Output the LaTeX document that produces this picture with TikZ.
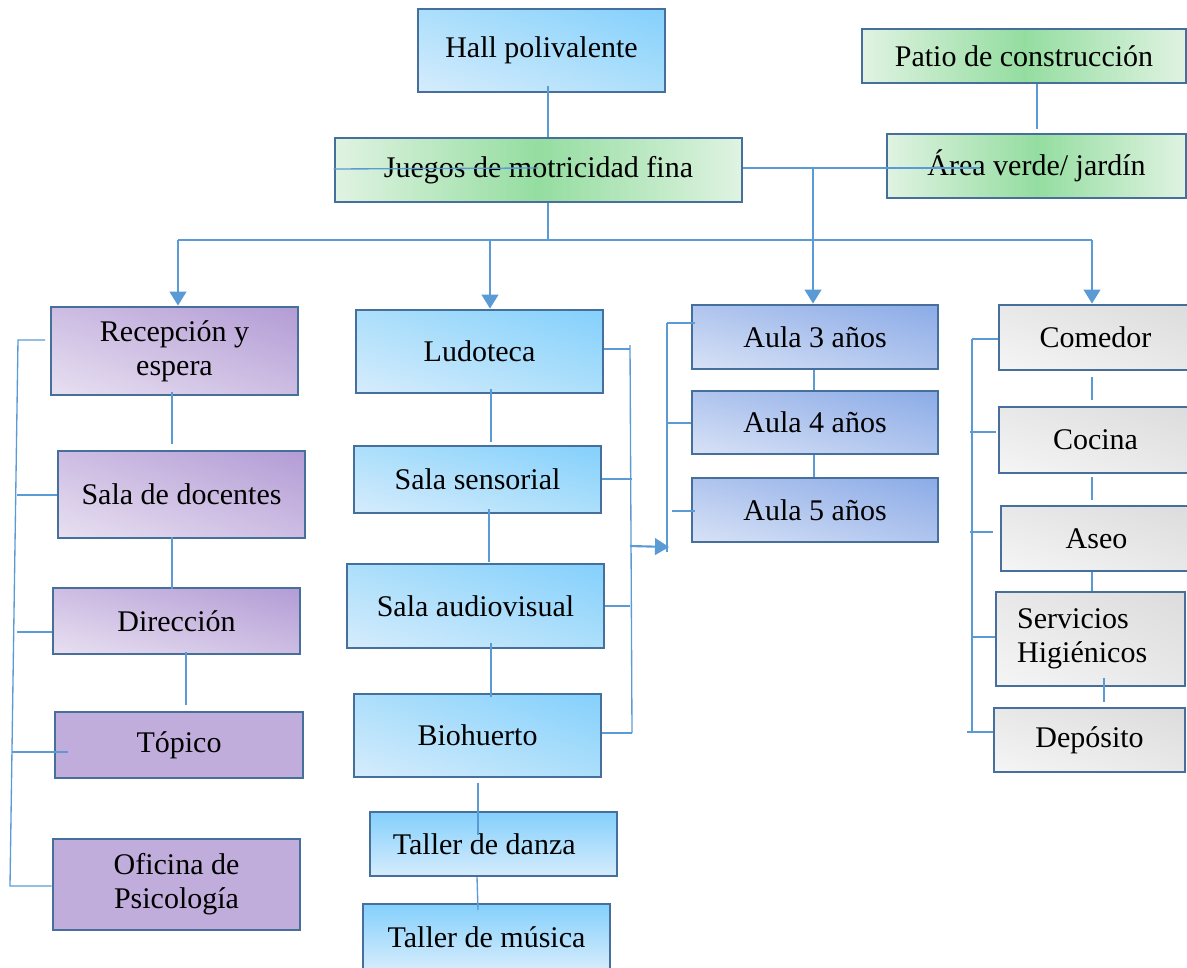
\documentclass[tikz,border=0pt]{standalone}
\usepackage{fontspec}
\setmainfont{Liberation Serif}
\usetikzlibrary{arrows.meta,calc,shadings}

\definecolor{frame}{HTML}{46709B}
\definecolor{linkc}{HTML}{5B9BD5}
\definecolor{blueD}{HTML}{84D0FC}
\definecolor{blueM}{HTML}{ACDFFB}
\definecolor{blueL}{HTML}{D6ECFC}
\definecolor{greenD}{HTML}{94DDA0}
\definecolor{greenL}{HTML}{E0F3E2}
\definecolor{purpD}{HTML}{B39CD5}
\definecolor{purpM}{HTML}{CDBDE3}
\definecolor{purpL}{HTML}{E8E0F1}
\definecolor{purpF}{HTML}{C1ADDB}
\definecolor{aulaD}{HTML}{8BABE7}
\definecolor{aulaM}{HTML}{B0C5EE}
\definecolor{aulaL}{HTML}{D8E2F6}
\definecolor{grayD}{HTML}{DCDCDC}
\definecolor{grayM}{HTML}{E8E8E8}
\definecolor{grayL}{HTML}{F5F5F5}

\tikzset{
  room/.style={draw=frame, line width=2.1pt, inner sep=0pt, align=center,
    font=\fontsize{22.5}{25.5}\selectfont},
  bluebox/.style={room, upper right=blueD, upper left=blueM, lower right=blueM, lower left=blueL},
  bluevert/.style={room, top color=blueD, bottom color=blueL},
  greenbox/.style={room, left color=greenL, right color=greenL, middle color=greenD},
  purpbox/.style={room, upper right=purpD, upper left=purpM, lower right=purpM, lower left=purpL},
  purpflat/.style={room, fill=purpF},
  aulabox/.style={room, upper right=aulaD, upper left=aulaM, lower right=aulaM, lower left=aulaL},
  graybox/.style={room, upper right=grayD, upper left=grayM, lower right=grayM, lower left=grayL},
  wire/.style={draw=linkc, line width=1pt},
  feed/.style={draw=linkc, line width=1.6pt, -{Triangle[length=10.5pt,width=12.5pt]}},
}

% room box given by its corners (x1,y1) (x2,y2) in picture units
\newcommand\roombox[7][]{%
  \node[#2, #1, minimum width={(#5-#3)*0.75pt}, minimum height={(#6-#4)*0.75pt}]
    (#7) at ({(#3+#5)/2},{(#4+#6)/2})}

\begin{document}
\begin{tikzpicture}[x=0.75pt, y=-0.75pt]
\useasboundingbox (0,0) rectangle (1187,967);

% ---------- top level ----------
\roombox{bluebox}{418}{9}{665}{92}{hall} {Hall polivalente};
\roombox{greenbox}{335}{138}{742}{202}{juegos} {Juegos de motricidad fina};
\roombox{greenbox}{862}{29}{1186}{83}{patio} {Patio de construcción};
\roombox{greenbox}{887}{134}{1186}{198}{verde} {Área verde/ jardín};

% ---------- administration ----------
\roombox{purpbox}{51}{307}{298}{395}{recep} {Recepción y\\espera};
\roombox{purpbox}{58}{451}{305}{538}{docen} {Sala de docentes};
\roombox{purpbox}{53}{588}{300}{654}{direc} {Dirección};
\roombox{purpflat}{55}{712}{303}{778}{topico} {Tópico};
\roombox{purpflat}{53}{839}{300}{930}{psico} {Oficina de\\Psicología};

% ---------- activity rooms ----------
\roombox{bluebox}{356}{310}{603}{393}{ludo} {Ludoteca};
\roombox{bluebox}{354}{446}{601}{513}{senso} {Sala sensorial};
\roombox{bluebox}{347}{564}{604}{648}{audio} {Sala audiovisual};
\roombox{bluebox}{354}{694}{601}{777}{bio} {Biohuerto};
\roombox{bluevert}{370}{812}{617}{876}{danza} {\makebox[151pt][l]{Taller de danza}};
\roombox{bluevert}{363}{904}{610}{970}{musica} {Taller de música};

% ---------- classrooms ----------
\roombox{aulabox}{692}{305}{938}{369}{aula3} {Aula 3 años};
\roombox{aulabox}{692}{391}{938}{454}{aula4} {Aula 4 años};
\roombox{aulabox}{692}{478}{938}{542}{aula5} {Aula 5 años};

% ---------- services ----------
\roombox{graybox}{999}{305}{1192}{370}{comedor} {Comedor};
\roombox{graybox}{999}{407}{1192}{473}{cocina} {Cocina};
\roombox{graybox}{1001}{506}{1192}{571}{aseo} {Aseo};
\roombox[text width=110pt, align=left]{graybox}{996}{592}{1185}{686}{sshh} {Servicios\\Higiénicos};
\roombox{graybox}{994}{708}{1185}{772}{depo} {Depósito};

% ---------- main links ----------
\draw[wire] (548,86) -- (juegos.north -| 548,0);
\draw[wire] (patio.south -| 1037,0) -- (1037,129);
\draw[wire] (juegos.west |- 0,169) -- (538,168);
\draw[wire] (juegos.east |- 0,168) -- (980,168);
\coordinate (bus) at (548,240);
\draw[wire] (juegos.south -| bus) -- (bus);
\draw[wire] (178,240) -- (1092,240);
\draw[feed] (178,240) -- (recep.north -| 178,0);
\draw[feed] (490,240) -- (ludo.north -| 490,0);
\draw[feed] (1092,240) -- (comedor.north -| 1092,0);
\draw[feed] (813,168) -- (aula3.north -| 813,0);

% ---------- administration links ----------
\draw[wire] (172,392) -- (172,444);
\draw[wire] (172,537) -- (172,589);
\draw[wire] (186,652) -- (186,705);
\draw[wire] (45,340) -- (18,340) -- (10,886) -- (psico.west |- 0,886);
\draw[wire] (17,495) -- (docen.west |- 0,495);
\draw[wire] (17,632) -- (direc.west |- 0,632);
\draw[wire] (12,752) -- (68,752);

% ---------- activity links ----------
\draw[wire] (491,389) -- (491,442);
\draw[wire] (489,509) -- (489,562);
\draw[wire] (491,643) -- (491,697);
\draw[wire] (478,783) -- (478,835);
\draw[wire] (477,877) -- (478,910);
\draw[wire] (630,345) -- (632,733);
\draw[wire] (ludo.east |- 0,349) -- (630,349);
\draw[wire] (senso.east |- 0,479) -- (632,479);
\draw[wire] (audio.east |- 0,606) -- (630,606);
\draw[wire] (bio.east |- 0,733) -- (632,733);
\draw[feed] (630,546) -- (669,547);

% ---------- classroom links ----------
\draw[wire] (aula3.south -| 814,0) -- (aula4.north -| 814,0);
\draw[wire] (aula4.south -| 814,0) -- (aula5.north -| 814,0);
\draw[wire] (667,323) -- (667,552);
\draw[wire] (667,323) -- (695,323);
\draw[wire] (667,423) -- (aula4.west |- 0,423);
\draw[wire] (672,511) -- (695,511);

% ---------- service links ----------
\draw[wire] (1092,377) -- (1092,400);
\draw[wire] (1092,477) -- (1092,500);
\draw[wire] (aseo.south -| 1092,0) -- (sshh.north -| 1092,0);
\draw[wire] (1104,678) -- (1104,702);
\draw[wire] (972,339) -- (972,733);
\draw[wire] (972,339) -- (comedor.west |- 0,339);
\draw[wire] (970,432) -- (996,432);
\draw[wire] (970,532) -- (993,532);
\draw[wire] (972,637) -- (sshh.west |- 0,637);
\draw[wire] (967,732) -- (depo.west |- 0,732);
\end{tikzpicture}
\end{document}
